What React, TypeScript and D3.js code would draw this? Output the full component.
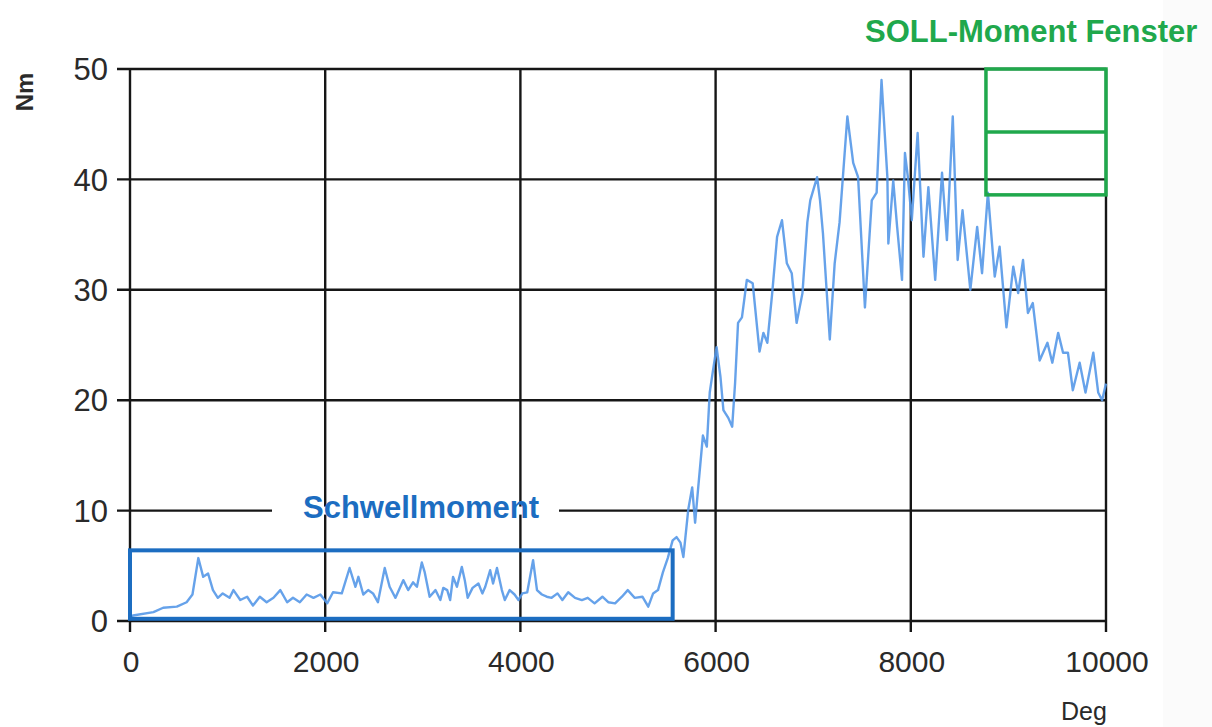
import React from 'react';
import * as d3 from 'd3';

// Torque curve
const degs = [
	0, 30, 240, 340, 480, 580, 640, 700, 750, 800, 850, 900, 950, 1020, 1060, 1130, 1200, 1260, 1330, 1400,
	1470, 1540, 1610, 1670, 1740, 1810, 1880, 1950, 2020, 2080, 2170, 2250, 2310, 2340, 2390, 2440, 2490, 2540,
	2610, 2660, 2720, 2800, 2850, 2900, 2940, 2990, 3020, 3070, 3130, 3180, 3210, 3250, 3280, 3310, 3350, 3400,
	3430, 3460, 3510, 3570, 3610, 3640, 3690, 3720, 3760, 3810, 3840, 3890, 3940, 3980, 4020, 4070, 4130, 4170,
	4220, 4270, 4320, 4380, 4430, 4490, 4560, 4630, 4690, 4760, 4840, 4900, 4970, 5040, 5100, 5170, 5250, 5310,
	5360, 5410, 5460, 5510, 5560, 5600, 5640, 5670, 5720, 5760, 5790, 5820, 5870, 5910, 5940, 5970, 6010, 6050,
	6080, 6130, 6170, 6200, 6230, 6270, 6320, 6380, 6450, 6490, 6530, 6580, 6630, 6680, 6730, 6780, 6830, 6890,
	6940, 6970, 7040, 7070, 7100, 7170, 7220, 7270, 7350, 7410, 7460, 7530, 7600, 7650, 7700, 7760, 7770, 7820,
	7860, 7910, 7940, 7970, 8010, 8070, 8130, 8180, 8250, 8320, 8370, 8430, 8480, 8530, 8610, 8680, 8730, 8790,
	8860, 8910, 8980, 9050, 9100, 9150, 9200, 9250, 9320, 9400, 9450, 9510, 9560, 9610, 9660, 9730, 9790, 9870,
	9920, 9960, 10000,
];
const torque = [
	0.3, 0.5, 0.8, 1.2, 1.3, 1.7, 2.4, 5.7, 4.0, 4.3, 2.8, 2.1, 2.5, 2.1, 2.8, 1.9, 2.2, 1.4, 2.2, 1.7,
	2.1, 2.8, 1.7, 2.1, 1.7, 2.4, 2.1, 2.4, 1.6, 2.6, 2.5, 4.8, 3.1, 4.0, 2.4, 2.8, 2.5, 1.7,
	4.8, 3.1, 2.1, 3.7, 2.8, 3.5, 3.1, 5.3, 4.4, 2.2, 2.8, 1.9, 3.0, 2.8, 1.9, 4.0, 3.1, 4.9,
	3.7, 2.1, 3.0, 3.4, 2.5, 3.1, 4.6, 3.4, 4.8, 2.8, 1.9, 2.8, 2.4, 1.9, 2.5, 2.6, 5.5, 2.8,
	2.4, 2.2, 2.1, 2.5, 1.9, 2.6, 2.1, 1.9, 2.1, 1.6, 2.2, 1.7, 1.6, 2.2, 2.8, 2.1, 2.2, 1.3,
	2.5, 2.8, 4.4, 5.7, 7.3, 7.6, 7.1, 5.8, 10.1, 12.1, 8.9, 11.9, 16.8, 15.8, 20.7, 22.5, 24.8, 22.1,
	19.1, 18.4, 17.6, 21.6, 27.0, 27.5, 30.9, 30.6, 24.4, 26.1, 25.2, 29.7, 34.8, 36.3, 32.4, 31.5, 27.0, 29.7,
	36.1, 38.1, 40.2, 38.1, 35.1, 25.5, 32.4, 36.1, 45.7, 41.5, 40.2, 28.4, 38.1, 38.8, 49.0, 40.2, 34.2, 39.9,
	35.7, 30.9, 42.4, 40.2, 36.3, 44.2, 33.0, 39.3, 30.9, 40.6, 34.5, 45.7, 32.7, 37.2, 30.0, 35.7, 31.5, 38.8,
	31.2, 33.9, 26.6, 32.1, 29.7, 32.7, 27.9, 28.8, 23.6, 25.2, 23.4, 26.1, 24.3, 24.3, 20.9, 23.4, 20.7, 24.3,
	20.7, 20.0, 21.5,
];

const xTicks = [0, 2000, 4000, 6000, 8000, 10000];
const yTicks = [0, 10, 20, 30, 40, 50];

// annotation windows in data units: [deg0, deg1, nm0, nm1]
const schwellBox = [0, 5560, 0.2, 6.4];
const sollBox = [8770, 10000, 38.6, 50];
const sollMid = 44.3;

const W = 1212;
const H = 727;
const margin = { top: 69, right: 106, bottom: 106, left: 130 };

const blue = '#1c6dc1';
const green = '#20a84c';
const lineBlue = '#5598e8';
const font = '"Liberation Sans", Arial, sans-serif';

export default function App() {
	const x = d3.scaleLinear().domain([0, 10000]).range([margin.left, W - margin.right]);
	const y = d3.scaleLinear().domain([0, 50]).range([H - margin.bottom, margin.top]);

	const pts: [number, number][] = degs.map((d, i) => [d, torque[i]]);
	const line = d3.line<[number, number]>().x(d => x(d[0])).y(d => y(d[1]));

	const [x0, x1] = x.range();
	const [yb, yt] = y.range();

	return (
		<svg width={W} height={H} style={{ position: 'absolute', left: 0, top: 0, background: '#fff' }}>
			<rect x={1163} y={0} width={W - 1163} height={H} fill="#fbfbfb" />

			{/* grid + ticks */}
			<g stroke="#161616" strokeWidth={2.4}>
				{yTicks.map(t => (
					<line key={'y' + t} x1={x0 - 13} x2={x1} y1={y(t)} y2={y(t)} />
				))}
				{xTicks.map(t => (
					<line key={'x' + t} x1={x(t)} x2={x(t)} y1={yt} y2={yb + 11} />
				))}
			</g>

			{/* knock-out behind the Schwellmoment label */}
			<rect x={272} y={y(10) - 4} width={287} height={8} fill="#fff" />

			<path d={line(pts) ?? ''} fill="none" stroke={lineBlue} strokeWidth={2.4} strokeOpacity={0.9} strokeLinejoin="round" />

			{/* y tick labels */}
			<g fontFamily={font} fontSize={31} fill="#2a2a2a" textAnchor="end">
				{yTicks.map(t => (
					<text key={t} x={108} y={y(t)} dy="0.36em">{t}</text>
				))}
			</g>
			{/* x tick labels */}
			<g fontFamily={font} fontSize={30} fill="#2a2a2a" textAnchor="middle">
				{xTicks.map(t => (
					<text key={t} x={x(t) + 1} y={672}>{t}</text>
				))}
			</g>

			<text x={33} y={92} transform="rotate(-90,33,92)" textAnchor="middle" fontFamily={font} fontWeight="bold" fontSize={24} fill="#2a2a2a">Nm</text>
			<text x={1084} y={720} textAnchor="middle" fontFamily={font} fontSize={25} fill="#2a2a2a">Deg</text>

			{/* Schwellmoment window */}
			<rect
				x={x(schwellBox[0])}
				y={y(schwellBox[3])}
				width={x(schwellBox[1]) - x(schwellBox[0])}
				height={y(schwellBox[2]) - y(schwellBox[3])}
				fill="none"
				stroke={blue}
				strokeWidth={4}
			/>
			<text x={421} y={518} textAnchor="middle" fontFamily={font} fontWeight="bold" fontSize={31} fill={blue}>Schwellmoment</text>

			{/* SOLL-Moment window */}
			<rect
				x={x(sollBox[0])}
				y={y(sollBox[3])}
				width={x(sollBox[1]) - x(sollBox[0])}
				height={y(sollBox[2]) - y(sollBox[3])}
				fill="none"
				stroke={green}
				strokeWidth={3.5}
			/>
			<line x1={x(sollBox[0])} x2={x(sollBox[1])} y1={y(sollMid)} y2={y(sollMid)} stroke={green} strokeWidth={3.5} />
			<text x={865} y={42} fontFamily={font} fontWeight="bold" fontSize={31} fill={green}>SOLL-Moment Fenster</text>
		</svg>
	);
}
